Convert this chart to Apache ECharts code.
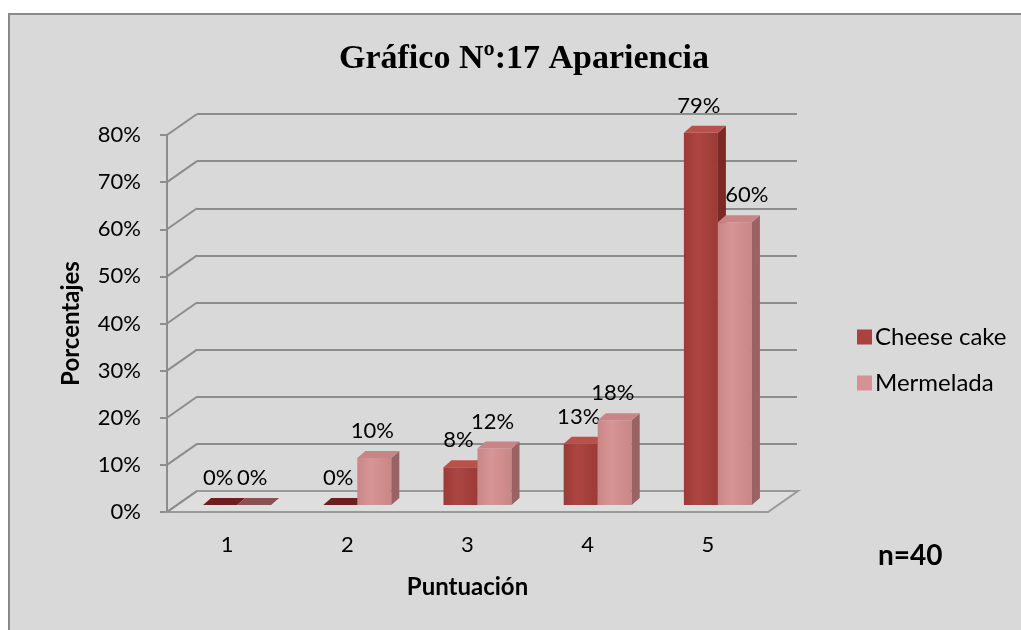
<!DOCTYPE html>
<html>
<head>
<meta charset="utf-8">
<title>Gráfico Nº:17 Apariencia</title>
<script src="https://cdn.jsdelivr.net/npm/echarts@6/dist/echarts.min.js"></script>
<style>
html,body{margin:0;padding:0;background:#fff}
#main{width:1021px;height:630px}
</style>
</head>
<body>
<div id="main"></div>
<script>
// datos
var categorias = ['1', '2', '3', '4', '5'];
var cheeseCake = [0, 0, 8, 13, 79];
var mermelada = [0, 10, 12, 18, 60];
var yTicks = [0, 10, 20, 30, 40, 50, 60, 70, 80];

// profundidad del "3D"
var wallDx = 30, wallDy = -21;
var barDx = 8, barDy = -7;
var shiftX = 10, shiftY = -7;
var gris = '#8c8c8c';
var fuente = 'Lato';

function makeBar(lado, col, otra) {
  return function (params, api) {
    var i = api.value(0), v = api.value(1);
    var base = api.coord([i, 0]);
    var top = api.coord([i, v]);
    var bw = api.size([1, 0])[0] * 0.283;
    var x0 = base[0] + shiftX + (lado < 0 ? -bw : 0);
    var x1 = x0 + bw;
    var yb = base[1] + shiftY, yt = top[1] + shiftY;
    // etiqueta corrida a la derecha si la barra vecina la tapa
    var lx = (x0 + x1) / 2 - 2;
    if (otra && otra[i] > v + 10) lx += 14;
    return {
      type: 'group',
      children: [
        {type: 'rect', shape: {x: x0, y: yt, width: bw, height: yb - yt},
          style: {fill: new echarts.graphic.LinearGradient(0, 0, 1, 0, [
            {offset: 0, color: col.front2}, {offset: 0.4, color: col.front}, {offset: 1, color: col.front2}])}},
        {type: 'polygon', shape: {points: [[x1, yt], [x1 + barDx, yt + barDy], [x1 + barDx, yb + barDy], [x1, yb]]},
          style: {fill: col.side}},
        {type: 'polygon', shape: {points: [[x0, yt], [x0 + barDx, yt + barDy], [x1 + barDx, yt + barDy], [x1, yt]]},
          style: {fill: v === 0 ? col.flat : col.top}},
        {type: 'text', x: lx, y: yt - 27, z2: 10,
          style: {text: v + '%', fill: '#000', fontSize: 22, fontFamily: fuente,
            align: 'center', verticalAlign: 'middle'}}
      ]
    };
  };
}

function renderFrame(params, api) {
  var cs = params.coordSys;
  var v = api.value(1);
  var y = api.coord([0, v])[1];
  var kids = [
    {type: 'line', shape: {x1: cs.x, y1: y, x2: cs.x + wallDx, y2: y + wallDy},
      style: {stroke: gris, lineWidth: 2}}
  ];
  if (v === 0) {
    var xr = cs.x + cs.width;
    kids.unshift({type: 'polygon',
      shape: {points: [[cs.x, y], [xr, y], [xr + wallDx, y + wallDy], [cs.x + wallDx, y + wallDy]]},
      style: {fill: '#dedede', stroke: '#9a9a9a', lineWidth: 2}});
  }
  return {type: 'group', children: kids};
}

var myChart = echarts.init(document.getElementById('main'));
var option = {
  backgroundColor: '#fff',
  animation: false,
  title: {
    text: 'Gráfico Nº:17 Apariencia',
    left: 519, top: 37, textAlign: 'center',
    textStyle: {fontFamily: 'Liberation Serif', fontWeight: 'bold', fontSize: 34, color: '#000'}
  },
  graphic: [
    {type: 'rect', z: -10, shape: {x: 9, y: 14, width: 1030, height: 640},
      style: {fill: '#d9d9d9', stroke: '#8a8a8a', lineWidth: 2}},
    {type: 'text', left: 878, top: 542,
      style: {text: 'n=40', fontSize: 28, fontWeight: 'bold', fontFamily: fuente, fill: '#000'}}
  ],
  legend: {
    orient: 'vertical', left: 852, top: 320, itemWidth: 15, itemHeight: 15, itemGap: 22,
    icon: 'rect',
    textStyle: {fontSize: 24, fontFamily: fuente, color: '#000', padding: [0, 0, 0, -2]},
    data: ['Cheese cake', 'Mermelada']
  },
  grid: [
    {left: 167, top: 135, width: 601, height: 377},
    {left: 197, top: 114, width: 600, height: 377}
  ],
  xAxis: [
    {type: 'category', gridIndex: 0, data: categorias,
      axisLine: {show: true, lineStyle: {color: gris, width: 2}},
      axisTick: {show: false},
      axisLabel: {fontSize: 22, color: '#000', fontFamily: fuente, margin: 22},
      name: 'Puntuación', nameLocation: 'middle', nameGap: 63,
      nameTextStyle: {fontSize: 24, fontWeight: 'bold', color: '#000', fontFamily: fuente}},
    {type: 'category', gridIndex: 1, data: categorias, show: false}
  ],
  yAxis: [
    {type: 'value', gridIndex: 0, min: 0, max: 80, interval: 10,
      axisLine: {show: true, lineStyle: {color: gris, width: 2}},
      axisTick: {show: true, length: 7, lineStyle: {color: gris, width: 2}},
      axisLabel: {formatter: '{value}%', fontSize: 22, color: '#000', fontFamily: fuente, margin: 26},
      splitLine: {show: false},
      name: 'Porcentajes', nameLocation: 'middle', nameGap: 84, nameRotate: 90,
      nameTextStyle: {fontSize: 24, fontWeight: 'bold', color: '#000', fontFamily: fuente}},
    {type: 'value', gridIndex: 1, min: 0, max: 80, interval: 10,
      axisLine: {show: false}, axisTick: {show: false}, axisLabel: {show: false},
      splitLine: {show: true, lineStyle: {color: gris, width: 2}}}
  ],
  series: [
    {type: 'custom', name: 'marco', xAxisIndex: 0, yAxisIndex: 0, z: 1, silent: true,
      renderItem: renderFrame,
      data: yTicks.map(function (t) { return [0, t]; })},
    {type: 'custom', name: 'Cheese cake', xAxisIndex: 0, yAxisIndex: 0, z: 3,
      itemStyle: {color: '#a8433f'},
      renderItem: makeBar(-1, {front: '#ad4642', front2: '#9c3a36', side: '#7a2927', top: '#b9514b', flat: '#6e1f1d'}),
      data: categorias.map(function (c, i) { return [i, cheeseCake[i]]; })},
    {type: 'custom', name: 'Mermelada', xAxisIndex: 0, yAxisIndex: 0, z: 4,
      itemStyle: {color: '#d59293'},
      renderItem: makeBar(1, {front: '#d89596', front2: '#c98687', side: '#9a6262', top: '#c98485', flat: '#8d5050'}, cheeseCake),
      data: categorias.map(function (c, i) { return [i, mermelada[i]]; })}
  ]
};
myChart.setOption(option);
</script>
</body>
</html>
